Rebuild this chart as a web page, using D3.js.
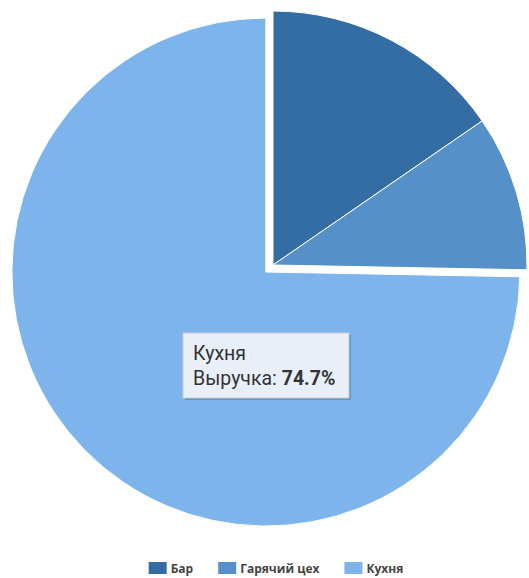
<!DOCTYPE html>
<html>
<head>
<meta charset="utf-8">
<title></title>
<style>
    body { margin: 0; background: #fff; }
    .legend text { font-family: "Open Sans", sans-serif; font-size: 12px; font-weight: bold; fill: #444; }
    .tip text { font-family: Roboto, sans-serif; font-size: 19.5px; fill: #333; }
</style>
</head>
<body>
<script src="https://cdn.jsdelivr.net/npm/d3@7/dist/d3.min.js"></script>
<script>
    var width = 529, height = 578;

    // данные
    var categories = ["Бар", "Гарячий цех", "Кухня"];
    var revenue = [15.4, 9.9, 74.7];
    var colors = ["#346ca4", "#5690c8", "#7cb4eb"];
    var seriesName = "Выручка";
    var explodeIndex = 2;

    var cx = 273, cy = 265, radius = 254, explode = 10;

    var svg = d3.select("body").append("svg")
        .attr("width", width)
        .attr("height", height);

    var pie = d3.pie().sort(null).value(function(d){ return d; });
    var arc = d3.arc().innerRadius(0).outerRadius(radius);
    var arcs = pie(revenue);

    var g = svg.append("g").attr("transform", "translate(" + cx + "," + cy + ")");

    g.selectAll("path")
        .data(arcs)
        .enter()
        .append("path")
        .attr("d", arc)
        .attr("fill", function(d, i){ return colors[i]; })
        .attr("stroke", "#fff")
        .attr("stroke-width", 1)
        .attr("transform", function(d, i){
            if (i != explodeIndex) return null;
            var a = (d.startAngle + d.endAngle) / 2;
            return "translate(" + (Math.sin(a) * explode) + "," + (-Math.cos(a) * explode) + ")";
        });

    // подсказка
    var tip = svg.append("g").attr("class", "tip").attr("transform", "translate(183,333)");
    tip.append("rect")
        .attr("x", 2).attr("y", 2)
        .attr("width", 166).attr("height", 65)
        .attr("fill", "rgba(0,0,0,0.18)");
    tip.append("rect")
        .attr("width", 166).attr("height", 65)
        .attr("fill", "#e9eff8")
        .attr("stroke", "#c8ccd2")
        .attr("stroke-width", 1);
    tip.append("text").attr("x", 10).attr("y", 27).text(categories[explodeIndex]);
    var line2 = tip.append("text").attr("x", 10).attr("y", 52);
    line2.append("tspan").text(seriesName + ": ");
    line2.append("tspan").attr("font-weight", "bold").text(revenue[explodeIndex].toFixed(1) + "%");

    // легенда
    var legend = svg.append("g").attr("class", "legend");
    var items = legend.selectAll("g")
        .data(categories)
        .enter()
        .append("g");
    items.append("rect")
        .attr("width", 18).attr("height", 12)
        .attr("y", 562)
        .attr("fill", function(d, i){ return colors[i]; });
    items.append("text")
        .attr("x", 22).attr("y", 573)
        .text(function(d){ return d; });

    var x = 0, pos = [];
    items.each(function(){
        var w = 22 + d3.select(this).select("text").node().getComputedTextLength();
        pos.push(x);
        x += w + 25;
    });
    var total = x - 25;
    var start = 276 - total / 2;
    items.attr("transform", function(d, i){ return "translate(" + (start + pos[i]) + ",0)"; });
</script>
</body>
</html>
